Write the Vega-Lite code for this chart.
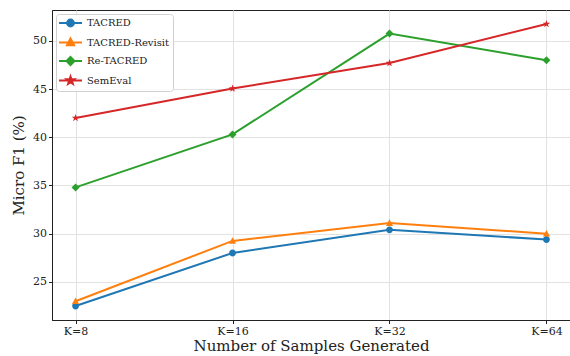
{
  "$schema": "https://vega.github.io/schema/vega-lite/v6.json",
  "width": 518,
  "height": 310,
  "autosize": {"type": "none"},
  "padding": {"left": 52, "top": 10, "right": 0, "bottom": 36},
  "background": "white",
  "data": {
    "values": [
      {"k": "K=8", "series": "TACRED", "f1": 22.5},
      {"k": "K=16", "series": "TACRED", "f1": 28.0},
      {"k": "K=32", "series": "TACRED", "f1": 30.4},
      {"k": "K=64", "series": "TACRED", "f1": 29.4},
      {"k": "K=8", "series": "TACRED-Revisit", "f1": 23.0},
      {"k": "K=16", "series": "TACRED-Revisit", "f1": 29.25},
      {"k": "K=32", "series": "TACRED-Revisit", "f1": 31.1},
      {"k": "K=64", "series": "TACRED-Revisit", "f1": 30.0},
      {"k": "K=8", "series": "Re-TACRED", "f1": 34.8},
      {"k": "K=16", "series": "Re-TACRED", "f1": 40.3},
      {"k": "K=32", "series": "Re-TACRED", "f1": 50.75},
      {"k": "K=64", "series": "Re-TACRED", "f1": 48.0},
      {"k": "K=8", "series": "SemEval", "f1": 42.0},
      {"k": "K=16", "series": "SemEval", "f1": 45.05},
      {"k": "K=32", "series": "SemEval", "f1": 47.7},
      {"k": "K=64", "series": "SemEval", "f1": 51.75}
    ]
  },
  "encoding": {
    "x": {
      "field": "k",
      "type": "ordinal",
      "sort": ["K=8", "K=16", "K=32", "K=64"],
      "scale": {"type": "point", "padding": 0.15},
      "axis": {"labelAngle": 0, "title": "Number of Samples Generated", "grid": true, "titlePadding": 2, "labelPadding": 1.5, "labelFont": "DejaVu Serif", "titleFont": "DejaVu Serif"}
    },
    "y": {
      "field": "f1",
      "type": "quantitative",
      "scale": {"domain": [21.05, 53.2], "nice": false, "zero": false},
      "axis": {"values": [25, 30, 35, 40, 45, 50], "title": "Micro F1 (%)", "grid": true, "titlePadding": 6, "labelPadding": 2, "labelFont": "DejaVu Serif", "titleFont": "DejaVu Serif"}
    },
    "color": {
      "field": "series",
      "type": "nominal",
      "scale": {
        "domain": ["TACRED", "TACRED-Revisit", "Re-TACRED", "SemEval"],
        "range": ["#1f77b4", "#ff7f0e", "#2ca02c", "#d62728"]
      },
      "legend": {
        "title": null,
        "orient": "top-left",
        "offset": 4,
        "padding": 3,
        "rowPadding": 3.5,
        "symbolSize": 100,
        "symbolOffset": 5.5,
        "labelOffset": 10.5,
        "labelFont": "DejaVu Serif",
        "labelFontSize": 10,
        "labelColor": "#222222",
        "strokeColor": "#d0d0d0",
        "fillColor": "rgba(255,255,255,0.85)",
        "cornerRadius": 3,
        "symbolStrokeWidth": 2,
        "encode": {
          "symbols": {
            "update": {
              "shape": {"signal": "datum.value === 'TACRED' ? 'M-2.3,0H2.3M0.68,0A0.68,0.68,0,1,1,-0.68,0A0.68,0.68,0,1,1,0.68,0Z' : datum.value === 'TACRED-Revisit' ? 'M-2.3,0H2.3M0,-0.8L0.72,0.56L-0.72,0.56Z' : datum.value === 'Re-TACRED' ? 'M-2.3,0H2.3M0,-0.8L0.8,0L0,0.8L-0.8,0Z' : 'M-2.3,0H2.3M0,-0.8L0.188,-0.259L0.761,-0.247L0.304,0.099L0.47,0.647L0,0.32L-0.47,0.647L-0.304,0.099L-0.761,-0.247L-0.188,-0.259Z'"},
              "size": {"value": 100},
              "fill": {"signal": "scale('color', datum.value)"},
              "stroke": {"signal": "scale('color', datum.value)"},
              "strokeWidth": {"value": 2},
              "opacity": {"value": 1}
            }
          }
        }
      }
    }
  },
  "layer": [
    {
      "mark": {"type": "line", "strokeWidth": 2}
    },
    {
      "mark": {"type": "point", "filled": true, "opacity": 1, "size": 64},
      "encoding": {
        "shape": {
          "field": "series",
          "type": "nominal",
          "scale": {
            "domain": ["SemEval", "Re-TACRED", "TACRED-Revisit", "TACRED"],
            "range": [
              "M0,-1L0.235,-0.324L0.951,-0.309L0.38,0.124L0.588,0.809L0,0.4L-0.588,0.809L-0.38,0.124L-0.951,-0.309L-0.235,-0.324Z",
              "M0,-1L1,0L0,1L-1,0Z",
              "M0,-0.95L0.88,0.7L-0.88,0.7Z",
              "M0.85,0A0.85,0.85,0,1,1,-0.85,0A0.85,0.85,0,1,1,0.85,0Z"
            ]
          },
          "legend": null
        }
      }
    }
  ],
  "config": {
    "view": {"stroke": "#222222", "strokeWidth": 1},
    "axis": {
      "labelFont": "DejaVu Serif",
      "titleFont": "DejaVu Serif",
      "labelFontSize": 11,
      "titleFontSize": 15,
      "titleFontWeight": "normal",
      "labelColor": "#222222",
      "titleColor": "#222222",
      "domainColor": "#222222",
      "tickColor": "#222222",
      "tickSize": 3.5,
      "gridColor": "#e2e2e2",
      "gridWidth": 1
    }
  }
}
